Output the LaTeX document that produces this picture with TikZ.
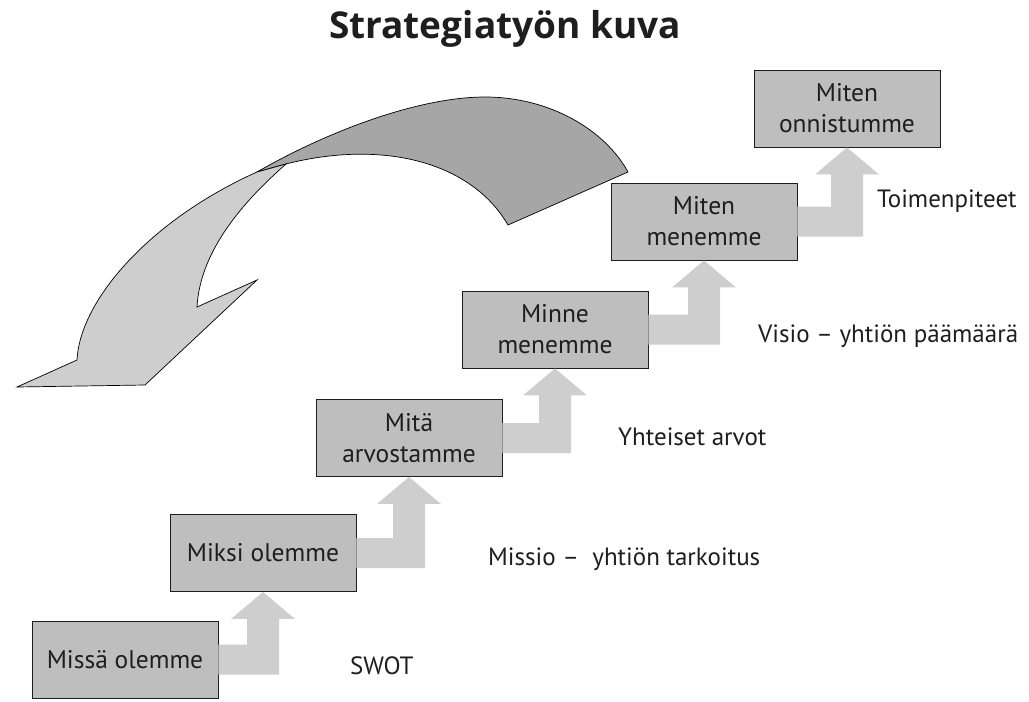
\documentclass[tikz,border=0pt]{standalone}
\usepackage{fontspec}
\setmainfont{PT Sans}
\newfontfamily\titlefont{Open Sans}
\usetikzlibrary{calc}

\definecolor{boxgray}{RGB}{190,190,190}
\definecolor{stepgray}{RGB}{206,206,206}
\definecolor{backface}{RGB}{166,166,166}
\definecolor{frontface}{RGB}{206,206,206}
\definecolor{inkgray}{RGB}{30,30,30}

\tikzset{
    stage/.style={draw=inkgray, line width=0.9pt, fill=boxgray, minimum width=186pt, minimum height=77pt,
        align=center, text=inkgray, font=\fontsize{25.5}{31}\selectfont},
    phase/.style={anchor=base west, text=inkgray, inner sep=0pt, font=\fontsize{25}{30}\selectfont},
    steparrow/.style={fill=stepgray}
}

\begin{document}
\begin{tikzpicture}[x=1pt, y=-1pt]
    \useasboundingbox (0,0) rectangle (1029,702);
    \node[anchor=base, text=inkgray, inner sep=0pt, font=\titlefont\fontsize{37}{42}\selectfont\bfseries] (title) at (505,38) {Strategiatyön kuva};

    \draw[line width=0.7pt, fill=backface] (257,172) .. controls (330,130) and (420,97) .. (485,97)
        .. controls (550,97) and (605,130) .. (628,172) -- (508,225)
        .. controls (470,160) and (380,140) .. (286,164) -- cycle;
    \draw[line width=0.7pt, fill=frontface] (257,172) -- (286,164)
        .. controls (245,200) and (200,250) .. (197,307) -- (257,280) -- (145,385) -- (17,387) -- (77,360)
        .. controls (80,300) and (150,220) .. (257,172) -- cycle;

    \node[stage] (s1) at (125,659.5) {Missä olemme};
    \node[stage] (s2) at (263,553) {Miksi olemme};
    \node[stage] (s3) at (409,438) {Mitä\\arvostamme};
    \node[stage] (s4) at (555,329.5) {Minne\\menemme};
    \node[stage] (s5) at (704,221.5) {Miten\\menemme};
    \node[stage] (s6) at (847,108.5) {Miten\\onnistumme};

    \foreach \a/\b in {s1/s2, s2/s3, s3/s4, s4/s5, s5/s6}
        \fill[steparrow] ($(\a.east)+(0,15)$) -| ($(\b.south)+(16,27)$) -- ($(\b.south)+(32,27)$)
            -- (\b.south) -- ($(\b.south)+(-32,27)$) -- ($(\b.south)+(-16,27)$) |- ($(\a.east)+(0,-15)$) -- cycle;

    \node[phase] (swot) at (350,674) {SWOT};
    \node[phase] (missio) at (488,565) {Missio –\ \ yhtiön tarkoitus};
    \node[phase] (arvot) at (618,445) {Yhteiset arvot};
    \node[phase] (visio) at (758,342) {Visio – yhtiön päämäärä};
    \node[phase] (toimet) at (877,207) {Toimenpiteet};
\end{tikzpicture}
\end{document}
